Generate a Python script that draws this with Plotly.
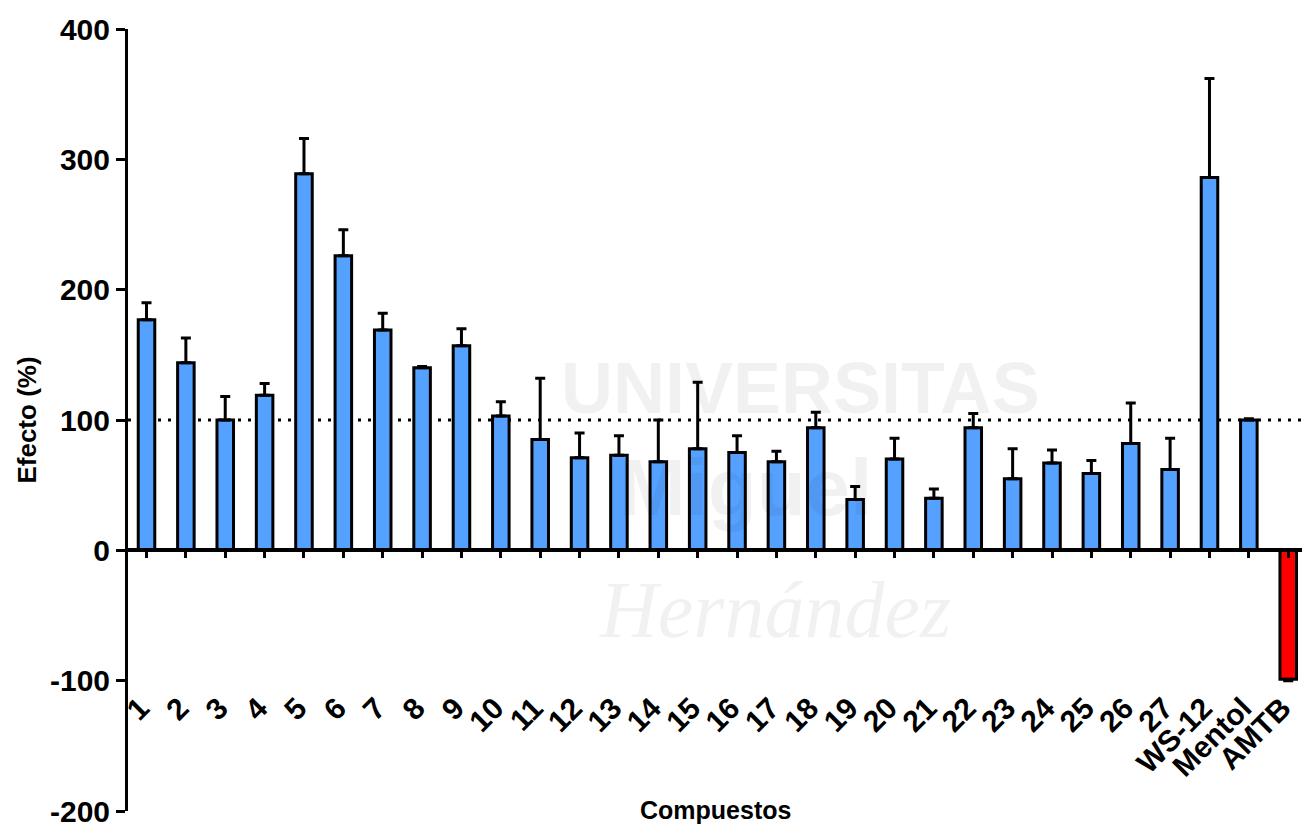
import plotly.graph_objects as go

categories = [str(i) for i in range(1, 28)] + ["WS-12", "Mentol", "AMTB"]
values = [177, 144, 100, 119, 289, 226, 169, 140, 157, 103,
          85, 71, 73, 68, 78, 75, 68, 94, 39, 70,
          40, 94, 55, 67, 59, 82, 62, 286, 100, -99]
errors = [13, 19, 18, 9, 27, 20, 13, 1, 13, 11,
          47, 19, 15, 32, 51, 13, 8, 12, 10, 16,
          7, 11, 23, 10, 10, 31, 24, 76, 1, 1]
colors = ["#55A1FF"] * 29 + ["#FF0000"]
y_ticks = [-200, -100, 0, 100, 200, 300, 400]
y_ticktext = ["-200", "-100", "0", "100", "200", "300", "400"]
reference_level = 100

idx = list(range(len(categories)))
err_plus = [e if v >= 0 else 0 for v, e in zip(values, errors)]
err_minus = [e if v < 0 else 0 for v, e in zip(values, errors)]

FONT = "Arial, Liberation Sans, sans-serif"
WM = "rgba(0,0,0,0.055)"

fig = go.Figure()
fig.add_trace(go.Bar(
    x=idx, y=values, width=0.42,
    marker=dict(color=colors, line=dict(color="black", width=3)),
    error_y=dict(type="data", symmetric=False, array=err_plus, arrayminus=err_minus,
                 color="black", thickness=3, width=5),
    showlegend=False, hoverinfo="skip",
))
# invisible trace carrying the label axis
fig.add_trace(go.Scatter(x=idx, y=[None] * len(idx), xaxis="x2", yaxis="y",
                         mode="markers", showlegend=False, hoverinfo="skip"))

xr = [-0.47, 29.35]
fig.update_layout(
    width=1302, height=825,
    margin=dict(l=128, r=0, t=29, b=14, autoexpand=False),
    paper_bgcolor="white", plot_bgcolor="rgba(0,0,0,0)",
    font=dict(family=FONT, color="black"),
    xaxis=dict(range=xr, anchor="free", position=1/3, showline=True, linecolor="black",
               linewidth=4, ticks="outside", ticklen=6, tickwidth=3, tickcolor="black",
               tickvals=idx, showticklabels=False, showgrid=False, zeroline=False,
               layer="above traces", automargin=False),
    xaxis2=dict(range=xr, overlaying="x", anchor="free", position=0.163, showline=False,
                ticks="", tickvals=idx, ticktext=categories, tickangle=-45,
                ticklabeloverflow="allow", ticklabelshift=-6, automargin=False,
                tickfont=dict(family=FONT, size=30, weight="bold", color="black"),
                showgrid=False, zeroline=False),
    yaxis=dict(range=[-200, 400], tickvals=y_ticks, ticktext=y_ticktext, showline=True,
               linecolor="black", linewidth=3, ticks="outside", ticklen=9, tickwidth=3,
               tickcolor="black", ticklabeloverflow="allow", automargin=False,
               tickfont=dict(family=FONT, size=30, weight="bold", color="black"),
               showgrid=False, zeroline=False,
               title=dict(text="Efecto (%)", standoff=6,
                          font=dict(family=FONT, size=26, weight="bold", color="black"))),
    shapes=[dict(type="line", xref="paper", x0=0, x1=1, yref="y",
                 y0=reference_level, y1=reference_level, layer="below",
                 line=dict(color="black", width=3, dash="3px,7px"))],
    annotations=[
        dict(text="Compuestos", xref="paper", yref="paper", x=0.5, y=0,
             xanchor="center", yanchor="middle", yshift=1, showarrow=False,
             font=dict(family=FONT, size=25, weight="bold", color="black")),
        dict(text="UNIVERSITAS", xref="paper", yref="paper", x=(800 - 128) / 1174,
             y=(811 - 388) / 782, xanchor="center", yanchor="middle", showarrow=False,
             font=dict(family=FONT, size=72, weight="bold", color=WM)),
        dict(text="Miguel", xref="paper", yref="paper", x=(745 - 128) / 1174,
             y=(811 - 488) / 782, xanchor="center", yanchor="middle", showarrow=False,
             font=dict(family=FONT, size=80, weight="bold", color=WM)),
        dict(text="Hernández", xref="paper", yref="paper", x=(775 - 128) / 1174,
             y=(811 - 610) / 782, xanchor="center", yanchor="middle", showarrow=False,
             font=dict(family="Liberation Serif, serif", size=80, style="italic",
                       color=WM)),
    ],
)

fig.write_html("out.html")
